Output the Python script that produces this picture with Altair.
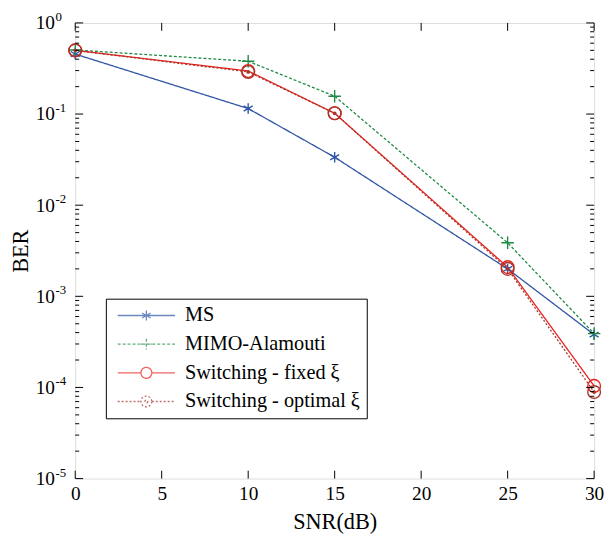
import altair as alt
import pandas as pd

snr = [0, 10, 15, 25, 30]
ms = [0.455, 0.115, 0.0336, 0.0020, 3.8e-4]
mimo = [0.505, 0.38, 0.157, 0.00387, 3.9e-4]
fixed = [0.50, 0.297, 0.102, 0.00209, 1.04e-4]
optimal = [0.50, 0.29, 0.102, 0.0020, 8.9e-5]

series_names = ["MS", "MIMO-Alamouti", "Switching - fixed ξ", "Switching - optimal ξ"]
series_vals = [ms, mimo, fixed, optimal]
colors = ["#2f55a4", "#1f8a45", "#e8231e", "#a8352b"]
dashes = [[1, 0], [3, 2], [1, 0], [2, 2]]

x_ticks = [0, 5, 10, 15, 20, 25, 30]
y_major = [1e-5, 1e-4, 1e-3, 1e-2, 1e-1, 1.0]
y_exponents = ["-5", "-4", "-3", "-2", "-1", "0"]
y_minor = [k * 10.0 ** e for e in range(-5, 0) for k in range(2, 10)]

W, H = 525, 461
FONT = "Liberation Serif"

STAR = "M0,-1L0,1M-0.87,-0.5L0.87,0.5M-0.87,0.5L0.87,-0.5"
PLUS = "M-1,0L1,0M0,-1L0,1"
CIRC = "M1,0A1,1,0,1,1,-1,0A1,1,0,1,1,1,0Z"
markers = [STAR, PLUS, CIRC, CIRC]
msizes = [110, 160, 165, 165]

L = 2.9
LEG_STAR = f"M-{L},0L{L},0M0,-0.5L0,0.5M-0.43,-0.25L0.43,0.25M-0.43,0.25L0.43,-0.25"
LEG_PLUS = f"M-{L},0L{L},0M0,-0.55L0,0.55M-0.55,0L0.55,0"
LEG_CIRC = f"M-{L},0L-0.55,0M0.55,0L{L},0M0.55,0A0.55,0.55,0,1,1,-0.55,0A0.55,0.55,0,1,1,0.55,0"
LEG_CDOT = LEG_CIRC + "M0.15,0A0.15,0.15,0,1,1,-0.15,0A0.15,0.15,0,1,1,0.15,0"
leg_shapes = [LEG_STAR, LEG_PLUS, LEG_CIRC, LEG_CDOT]

rows = []
for name, vals in zip(series_names, series_vals):
    for x, y in zip(snr, vals):
        rows.append({"snr": x, "ber": y, "series": name})
df = pd.DataFrame(rows)

xscale = alt.Scale(domain=[0, 30], nice=False, zero=False)
yscale = alt.Scale(type="log", domain=[1e-5, 1], nice=False)

xenc = alt.X("snr:Q", scale=xscale,
             axis=alt.Axis(values=x_ticks, ticks=False, domain=False, grid=False,
                           title="SNR(dB)", labelPadding=6, titlePadding=8, labelFlush=False))
yenc = alt.Y("ber:Q", scale=yscale,
             axis=alt.Axis(values=y_major, ticks=False, domain=False, grid=False,
                           title="BER", labelExpr="'10'", labelPadding=21,
                           titleX=-43, labelFlush=False, labelBaseline="middle"))

base = alt.Chart(df)
layers = []
for i, name in enumerate(series_names):
    sub = base.transform_filter(alt.datum.series == name)
    layers.append(
        sub.mark_line(strokeWidth=1.3, strokeDash=dashes[i], color=colors[i]).encode(
            x=xenc, y=yenc, order="snr:Q"))
for i, name in enumerate(series_names):
    sub = base.transform_filter(alt.datum.series == name)
    layers.append(
        sub.mark_point(shape=markers[i], size=msizes[i], filled=False, strokeWidth=1.4,
                       color=colors[i], opacity=1).encode(x="snr:Q", y="ber:Q"))
layers.append(
    base.transform_filter(alt.datum.series == series_names[3]).mark_point(
        shape="circle", size=14, filled=True, color=colors[3], opacity=1
    ).encode(x="snr:Q", y="ber:Q"))

exp_df = pd.DataFrame({"ber": y_major, "exp": y_exponents})
layers.append(
    alt.Chart(exp_df).mark_text(font=FONT, fontSize=13, align="left", baseline="middle",
                                dy=-6, color="black").encode(
        y="ber:Q", x=alt.value(-20), text="exp:N"))

ymaj = alt.Chart(pd.DataFrame({"ber": y_major}))
ymin = alt.Chart(pd.DataFrame({"ber": y_minor}))
xt = alt.Chart(pd.DataFrame({"snr": x_ticks}))
for ch, ln in [(ymaj, 8), (ymin, 4)]:
    layers.append(ch.mark_rule(color="black", strokeWidth=1).encode(
        y="ber:Q", x=alt.value(0), x2=alt.value(ln)))
    layers.append(ch.mark_rule(color="black", strokeWidth=1).encode(
        y="ber:Q", x=alt.value(W), x2=alt.value(W - ln)))
layers.append(xt.mark_rule(color="black", strokeWidth=1).encode(
    x="snr:Q", y=alt.value(H), y2=alt.value(H - 8)))
layers.append(xt.mark_rule(color="black", strokeWidth=1).encode(
    x="snr:Q", y=alt.value(0), y2=alt.value(8)))

legend = alt.Legend(title=None, orient="none", legendX=31, legendY=279)
leg_layer = base.transform_filter("false").mark_point(filled=False).encode(
    x="snr:Q", y="ber:Q",
    color=alt.Color("series:N", scale=alt.Scale(domain=series_names, range=colors), legend=legend),
    shape=alt.Shape("series:N", scale=alt.Scale(domain=series_names, range=leg_shapes), legend=legend),
    strokeDash=alt.StrokeDash("series:N", scale=alt.Scale(domain=series_names, range=dashes), legend=legend),
)
layers.append(leg_layer)

chart = alt.layer(*layers).properties(
    width=W, height=H,
    padding={"left": 68, "top": 12, "right": 10, "bottom": 56},
    autosize=alt.AutoSizeParams(type="none"),
).configure_view(stroke="black", strokeWidth=1.2).configure(
    background="white"
).configure_axis(
    labelFont=FONT, labelFontSize=19.5, labelColor="black",
    titleFont=FONT, titleFontSize=22.5, titleFontWeight="normal", titleColor="black",
).configure_legend(
    labelFont=FONT, labelFontSize=20.5, labelColor="black", labelLimit=400,
    strokeColor="black", fillColor="white", padding=6, rowPadding=7,
    symbolSize=400, symbolOffset=24, labelOffset=28, symbolStrokeWidth=1.3,
    symbolFillColor="transparent",
)

chart.save("out.html", embed_options={"renderer": "svg", "actions": False})
